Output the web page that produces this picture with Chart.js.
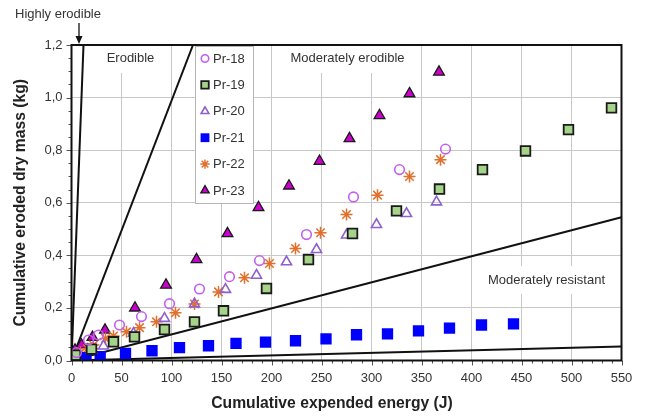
<!DOCTYPE html>
<html><head><meta charset="utf-8">
<script src="https://cdn.jsdelivr.net/npm/chart.js@4.4.1/dist/chart.umd.min.js"></script>
<style>html,body{margin:0;padding:0;background:#fff;}canvas{display:block;}</style>
</head><body>
<canvas id="c" width="650" height="416"></canvas>
<script>
// ---- data ----
const seriesNames = ['Pr-18', 'Pr-19', 'Pr-20', 'Pr-21', 'Pr-22', 'Pr-23'];

const pr18X = [5, 17, 27, 48, 70, 98, 128, 158, 188, 235, 282, 328, 374];
const pr18Y = [0.03, 0.078, 0.097, 0.135, 0.167, 0.216, 0.272, 0.319, 0.38, 0.479, 0.622, 0.726, 0.804];

const pr19X = [4, 20, 42, 63, 93, 123, 152, 195, 237, 281, 325, 368, 411, 454, 497, 540];
const pr19Y = [0.02, 0.043, 0.071, 0.09, 0.118, 0.147, 0.189, 0.274, 0.384, 0.483, 0.569, 0.652, 0.726, 0.797, 0.878, 0.961];

const pr20X = [4, 20, 32, 62, 93, 123, 154, 185, 215, 245, 275, 305, 335, 365];
const pr20Y = [0.015, 0.04, 0.055, 0.103, 0.16, 0.215, 0.27, 0.324, 0.375, 0.422, 0.477, 0.517, 0.559, 0.603];

const pr21X = [14.5, 28.7, 54, 80.5, 108, 137, 164.5, 194, 224, 254.5, 285, 316, 347, 378, 410, 442];
const pr21Y = [0.011, 0.015, 0.027, 0.037, 0.049, 0.056, 0.065, 0.07, 0.075, 0.082, 0.098, 0.101, 0.113, 0.123, 0.135, 0.139];

const pr22X = [2, 9, 16, 22, 34, 42, 55, 68, 85, 104, 123, 147, 173, 198, 224, 249, 275, 306, 338, 369];
const pr22Y = [0.005, 0.03, 0.045, 0.059, 0.084, 0.093, 0.109, 0.125, 0.147, 0.182, 0.215, 0.261, 0.315, 0.369, 0.426, 0.486, 0.555, 0.629, 0.70, 0.764];

const pr23X = [3.5, 10, 21, 33.5, 63.5, 94.5, 125, 156, 187, 217.5, 248, 278, 308, 338, 367.5];
const pr23Y = [0.04, 0.059, 0.088, 0.116, 0.2, 0.287, 0.384, 0.483, 0.582, 0.664, 0.758, 0.844, 0.932, 1.015, 1.097];

// class boundary lines through the origin: [energy, mass] end points
const highlyErodibleLine = [[0, 0], [12, 1.2]];
const erodibleLine = [[0, 0], [121.5, 1.2]];
const modResistantUpperLine = [[0, 0], [550, 0.545]];
const modResistantLowerLine = [[0, 0], [550, 0.053]];

const xTicks = [0, 50, 100, 150, 200, 250, 300, 350, 400, 450, 500, 550];
const yTicks = [0, 0.2, 0.4, 0.6, 0.8, 1.0, 1.2];

const classLabels = ['Highly erodible', 'Erodible', 'Moderately erodible', 'Moderately resistant'];
const xTitle = 'Cumulative expended energy (J)';
const yTitle = 'Cumulative eroded dry mass (kg)';

// ---- styles ----
const FONT = "'Liberation Sans', Arial, sans-serif";
const seriesStyles = [
  { pointStyle: 'circle', radius: 4.8, borderColor: '#c45ef0', backgroundColor: 'rgba(255,255,255,0)', borderWidth: 1.6 },
  { pointStyle: 'rect', radius: 6.8, borderColor: '#1a1a1a', backgroundColor: '#a6d38a', borderWidth: 1.8 },
  { pointStyle: 'triangle', radius: 5.8, borderColor: '#8f5fd0', backgroundColor: 'rgba(255,255,255,0)', borderWidth: 1.6 },
  { pointStyle: 'rect', radius: 8, borderColor: '#0000ff', backgroundColor: '#0000ff', borderWidth: 0 },
  { pointStyle: 'star', radius: 6, borderColor: '#e0702c', backgroundColor: '#e0702c', borderWidth: 1.5 },
  { pointStyle: 'triangle', radius: 6.2, borderColor: '#1a1a1a', backgroundColor: '#cc00cc', borderWidth: 1.3 }
];
const seriesX = [pr18X, pr19X, pr20X, pr21X, pr22X, pr23X];
const seriesY = [pr18Y, pr19Y, pr20Y, pr21Y, pr22Y, pr23Y];

const toPts = (xs, ys) => xs.map((x, i) => ({ x: x, y: ys[i] }));
const linePts = arr => arr.map(p => ({ x: p[0], y: p[1] }));

const datasets = seriesNames.map((name, i) => ({
  label: name,
  data: toPts(seriesX[i], seriesY[i]),
  pointStyle: seriesStyles[i].pointStyle,
  pointRadius: seriesStyles[i].radius,
  pointBorderColor: seriesStyles[i].borderColor,
  pointBackgroundColor: seriesStyles[i].backgroundColor,
  pointBorderWidth: seriesStyles[i].borderWidth,
  showLine: false
}));
[highlyErodibleLine, erodibleLine, modResistantUpperLine, modResistantLowerLine].forEach((l, i) => {
  datasets.push({
    label: 'boundary' + i,
    data: linePts(l),
    showLine: true,
    borderColor: '#111',
    borderWidth: 2,
    pointRadius: 0,
    fill: false
  });
});

function drawMarker(ctx, st, x, y, r) {
  ctx.save();
  ctx.fillStyle = st.backgroundColor;
  ctx.strokeStyle = st.borderColor;
  ctx.lineWidth = st.borderWidth;
  if (window.Chart && Chart.helpers && Chart.helpers.drawPoint) {
    Chart.helpers.drawPoint(ctx, { pointStyle: st.pointStyle, radius: r, rotation: 0, borderWidth: st.borderWidth }, x, y);
  }
  ctx.restore();
}

const decoPlugin = {
  id: 'deco',
  afterDatasetsDraw(chart) {
    const ctx = chart.ctx;
    const a = chart.chartArea;
    ctx.save();
    // white boxes behind class labels
    ctx.fillStyle = '#fff';
    ctx.fillRect(a.left + 27, a.top + 1, 64, 27);
    ctx.fillRect(a.left + 210, a.top + 1, 133, 27);
    ctx.fillRect(a.left + 406, a.top + 221, 138, 28);
    ctx.fillStyle = '#333';
    ctx.font = '13px ' + FONT;
    ctx.textBaseline = 'middle';
    ctx.textAlign = 'center';
    ctx.fillText(classLabels[1], a.left + 59, a.top + 13);
    ctx.fillText(classLabels[2], a.left + 276, a.top + 13);
    ctx.fillText(classLabels[3], a.left + 475, a.top + 235);
    ctx.textAlign = 'left';
    ctx.fillText(classLabels[0], 15, 14);
    // arrow
    ctx.strokeStyle = '#111';
    ctx.lineWidth = 1.3;
    ctx.beginPath();
    ctx.moveTo(79, 23); ctx.lineTo(79, 38); ctx.stroke();
    ctx.fillStyle = '#111';
    ctx.beginPath();
    ctx.moveTo(75.5, 36); ctx.lineTo(82.5, 36); ctx.lineTo(79, 44); ctx.closePath(); ctx.fill();

    // legend
    const lx = 195, ly = a.top + 1, lw = 58, lh = 157;
    ctx.fillStyle = '#fff';
    ctx.fillRect(lx, ly, lw, lh);
    ctx.strokeStyle = '#b5b5b5';
    ctx.lineWidth = 1;
    ctx.strokeRect(lx + 0.5, ly + 0.5, lw, lh);
    ctx.font = '13px ' + FONT;
    ctx.textAlign = 'left';
    ctx.textBaseline = 'middle';
    seriesNames.forEach((n, i) => {
      const yy = ly + 12.5 + i * 26.4;
      const st = seriesStyles[i];
      drawMarker(ctx, st, lx + 10, yy, st.radius * 0.78);
      ctx.fillStyle = '#333';
      ctx.fillText(n, lx + 18, yy + 0.5);
    });

    // x title
    ctx.fillStyle = '#222';
    ctx.font = 'bold 15.7px ' + FONT;
    ctx.textAlign = 'center';
    ctx.fillText(xTitle, 332, 404);

    // minor/major tick marks
    const xs = chart.scales.x, ys = chart.scales.y;
    ctx.strokeStyle = '#555';
    ctx.lineWidth = 1;
    ctx.beginPath();
    for (let v = 0; v <= 550; v += 10) {
      const px = Math.round(xs.getPixelForValue(v)) + 0.5;
      const len = v % 50 === 0 ? 5 : 3;
      ctx.moveTo(px, a.bottom); ctx.lineTo(px, a.bottom + len);
    }
    for (let k = 0; k <= 24; k++) {
      const py = Math.round(ys.getPixelForValue(k * 0.05)) + 0.5;
      const len = k % 4 === 0 ? 5 : 3;
      ctx.moveTo(a.left, py); ctx.lineTo(a.left - len, py);
    }
    ctx.stroke();

    // frame
    ctx.strokeStyle = '#111';
    ctx.lineWidth = 2;
    ctx.strokeRect(a.left, a.top, a.right - a.left, a.bottom - a.top);
    ctx.restore();
  }
};

new Chart(document.getElementById('c'), {
  type: 'scatter',
  data: { datasets: datasets },
  options: {
    responsive: false,
    animation: false,
    events: [],
    layout: { padding: { left: 0, right: 28.5, top: 45, bottom: 0 } },
    scales: {
      x: {
        type: 'linear', min: 0, max: 550,
        afterBuildTicks: s => { s.ticks = xTicks.map(v => ({ value: v })); },
        afterFit: s => { s.height = 55.5; },
        grid: { color: '#c8c8c8', lineWidth: 1, drawTicks: false },
        border: { display: false },
        ticks: { padding: 10, color: '#333', font: { family: FONT, size: 13 }, maxRotation: 0, autoSkip: false }
      },
      y: {
        type: 'linear', min: 0, max: 1.2,
        afterBuildTicks: s => { s.ticks = yTicks.map(v => ({ value: v })); },
        afterFit: s => { s.width = 71.5; },
        grid: { color: '#c8c8c8', lineWidth: 1, drawTicks: false },
        border: { display: false },
        ticks: { padding: 9, color: '#333', font: { family: FONT, size: 13 },
          callback: v => Number(v).toFixed(1).replace('.', ',') },
        title: { display: true, text: yTitle, color: '#222', font: { family: FONT, size: 15.7, weight: 'bold' }, padding: { top: 11, bottom: 0 } }
      }
    },
    plugins: { legend: { display: false }, tooltip: { enabled: false } }
  },
  plugins: [decoPlugin]
});
</script>
</body></html>
